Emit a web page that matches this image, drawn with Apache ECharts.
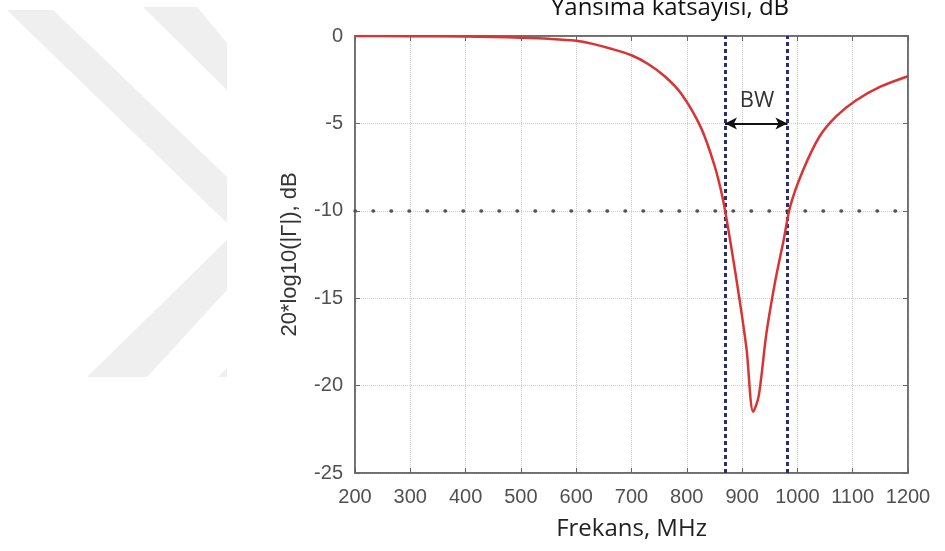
<!DOCTYPE html>
<html>
<head>
<meta charset="utf-8">
<script src="https://cdn.jsdelivr.net/npm/echarts@6/dist/echarts.min.js"></script>
<style>
html,body{margin:0;padding:0;background:#fff;}
#chart{width:945px;height:551px;}
</style>
</head>
<body>
<div id="chart"></div>
<script>
// ---- data ----
const freqMHz = [200, 300, 400, 450, 500, 550, 600, 630, 660, 700, 730, 760, 790, 825, 850, 865, 880, 895, 908, 920, 930, 944, 960, 975, 987, 1010, 1040, 1070, 1105, 1150, 1200];
const returnLossDb = [0, -0.01, -0.03, -0.06, -0.1, -0.16, -0.27, -0.45, -0.7, -1.1, -1.6, -2.3, -3.3, -5.2, -7.4, -9.3, -12.0, -15.0, -17.9, -21.5, -20.6, -17.0, -14.0, -11.7, -9.75, -7.7, -5.75, -4.6, -3.7, -2.9, -2.3];
const bwEdges = [869, 982];
const refLevelDb = -10;
const arrowLevelDb = -5;
const bwLabelPos = [927, -3.7];
const xTicks = {min: 200, max: 1200, interval: 100};
const yTicks = {min: -25, max: 0, interval: 5};
const titleText = 'Yansıma katsayısı, dB';
const xName = 'Frekans, MHz';
const yName = '20*log10(|Γ|), dB';

const seriesData = freqMHz.map((f, i) => [f, returnLossDb[i]]);

const chart = echarts.init(document.getElementById('chart'), null, {renderer: 'canvas'});
const tickFont = {fontFamily: 'Liberation Sans, Arial, sans-serif', fontSize: 20, color: '#505050', formatter: v => String(v)};
const wm = '#efefef';
const frame = '#666';

chart.setOption({
  backgroundColor: '#fff',
  animation: false,
  title: {
    text: titleText, left: 665, top: -9, textAlign: 'center',
    textStyle: {fontFamily: 'Open Sans, sans-serif', fontSize: 24, fontWeight: 'normal', color: '#111'}
  },
  graphic: [
    {type: 'polygon', z: -10, shape: {points: [[7,10],[53,10],[227,177],[227,290],[147,377],[87,377],[227,240],[227,223]]}, style: {fill: wm}},
    {type: 'polygon', z: -10, shape: {points: [[143,7],[197,7],[227,43],[227,90]]}, style: {fill: wm}},
    {type: 'polygon', z: -10, shape: {points: [[218,377],[227,377],[227,368]]}, style: {fill: wm}}
  ],
  grid: {left: 355, top: 36, width: 553, height: 437, show: true, borderColor: frame, borderWidth: 1.5, backgroundColor: 'transparent'},
  xAxis: [{
    type: 'value', min: xTicks.min, max: xTicks.max, interval: xTicks.interval,
    name: xName, nameLocation: 'middle', nameGap: 44,
    nameTextStyle: {fontFamily: 'Open Sans, sans-serif', fontSize: 24, color: '#222'},
    axisLine: {show: true, onZero: false, lineStyle: {color: frame, width: 1.5}},
    axisTick: {show: true, inside: true, length: 5, lineStyle: {color: frame}},
    axisLabel: Object.assign({margin: 14}, tickFont),
    splitLine: {show: true, lineStyle: {color: '#cfcfcf', type: 'dotted', width: 1}}
  }, {
    type: 'value', position: 'top', min: xTicks.min, max: xTicks.max, interval: xTicks.interval,
    axisLine: {show: true, onZero: false, lineStyle: {color: frame, width: 1.5}},
    axisTick: {show: true, inside: true, length: 5, lineStyle: {color: frame}},
    axisLabel: {show: false}, splitLine: {show: false}
  }],
  yAxis: [{
    type: 'value', min: yTicks.min, max: yTicks.max, interval: yTicks.interval,
    name: yName, nameLocation: 'middle', nameGap: 54, nameRotate: 90,
    nameTextStyle: {fontFamily: 'Liberation Sans, Arial, sans-serif', fontSize: 22, color: '#333'},
    axisLine: {show: true, onZero: false, lineStyle: {color: frame, width: 1.5}},
    axisTick: {show: true, inside: true, length: 5, lineStyle: {color: frame}},
    axisLabel: Object.assign({margin: 12}, tickFont),
    splitLine: {show: true, lineStyle: {color: '#cfcfcf', type: 'dotted', width: 1}}
  }, {
    type: 'value', position: 'right', min: yTicks.min, max: yTicks.max, interval: yTicks.interval,
    axisLine: {show: true, onZero: false, lineStyle: {color: frame, width: 1.5}},
    axisTick: {show: true, inside: true, length: 5, lineStyle: {color: frame}},
    axisLabel: {show: false}, splitLine: {show: false}
  }],
  series: [{
    type: 'line', data: seriesData, showSymbol: false, smooth: 0.3,
    lineStyle: {color: '#d83434', width: 2.5}, z: 5,
    markLine: {
      silent: true, symbol: 'none', label: {show: false},
      data: [
        {yAxis: refLevelDb, lineStyle: {color: '#555', width: 3.5, type: [0.5, 17.5], cap: 'round'}},
        {xAxis: bwEdges[0], lineStyle: {color: '#2b2e6e', width: 3, type: [4, 3]}},
        {xAxis: bwEdges[1], lineStyle: {color: '#2b2e6e', width: 3, type: [4, 3]}},
        [
          {coord: [bwEdges[0], arrowLevelDb], symbol: 'arrow', symbolSize: [9, 12], lineStyle: {color: '#111', width: 2, type: 'solid'}},
          {coord: [bwEdges[1], arrowLevelDb], symbol: 'arrow', symbolSize: [9, 12]}
        ]
      ]
    },
    markPoint: {
      silent: true,
      data: [{coord: bwLabelPos, symbol: 'circle', symbolSize: 0,
        label: {show: true, position: 'inside', formatter: 'BW', fontFamily: 'Open Sans, sans-serif', fontSize: 22, color: '#333'}}]
    }
  }]
});
</script>
</body>
</html>
